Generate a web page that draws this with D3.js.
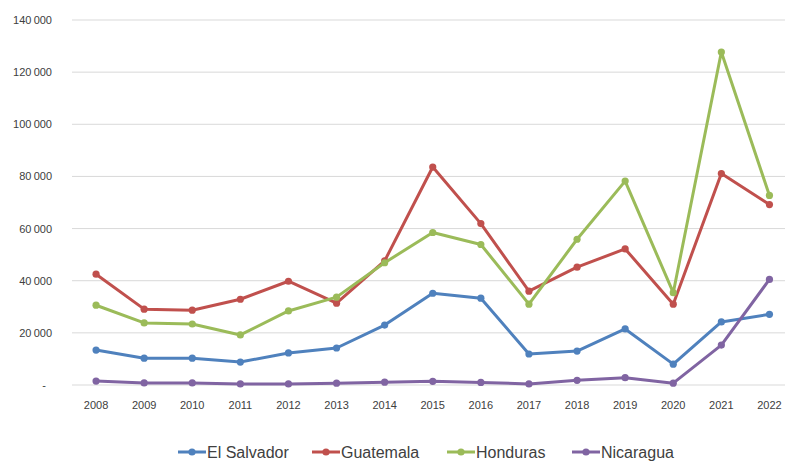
<!DOCTYPE html>
<html>
<head>
<meta charset="utf-8">
<script src="https://cdn.jsdelivr.net/npm/d3@7"></script>
<style>
  body { margin: 0; background: #fff; }
  svg text { font-family: "Liberation Sans", Arial, sans-serif; }
</style>
</head>
<body>
<svg id="chart" width="785" height="461"></svg>
<script>
  var years = ['2008', '2009', '2010', '2011', '2012', '2013', '2014', '2015',
    '2016', '2017', '2018', '2019', '2020', '2021', '2022'];
  var elSalvador = [13400, 10300, 10300, 8800, 12300, 14200, 23000, 35200,
    33300, 11900, 13000, 21500, 8000, 24200, 27100];
  var guatemala = [42500, 29100, 28700, 32900, 39800, 31400, 47600, 83600,
    61900, 36000, 45200, 52200, 31000, 81100, 69200];
  var honduras = [30600, 23800, 23400, 19200, 28400, 33700, 46900, 58500,
    53900, 31000, 55900, 78200, 35400, 127700, 72700];
  var nicaragua = [1500, 800, 800, 400, 400, 700, 1100, 1400,
    1000, 400, 1800, 2800, 700, 15300, 40500];
  var seriesNames = ['El Salvador', 'Guatemala', 'Honduras', 'Nicaragua'];
  var seriesColors = ['#4f81bd', '#c0504d', '#9bbb59', '#8064a2'];
  var yTicks = [0, 20000, 40000, 60000, 80000, 100000, 120000, 140000];

  var series = [elSalvador, guatemala, honduras, nicaragua].map(function(values, i) {
    return { name: seriesNames[i], color: seriesColors[i], values: values };
  });

  var svg = d3.select('#chart');

  var x = d3.scaleBand()
    .domain(years)
    .range([72, 72 + 15 * 48.1])
    .padding(0);
  var y = d3.scaleLinear()
    .domain([0, 140000])
    .range([385, 20]);

  var fmt = function(v) {
    if (v === 0) return '-';
    return d3.format(',')(v).replace(/,/g, '\u2009');
  };

  // grid lines
  svg.append('g')
    .selectAll('line')
    .data(yTicks.slice(1))
    .enter().append('line')
    .attr('x1', 72)
    .attr('x2', 785)
    .attr('y1', function(d) { return y(d); })
    .attr('y2', function(d) { return y(d); })
    .attr('stroke', '#d9d9d9')
    .attr('stroke-width', 1);

  // baseline
  svg.append('line')
    .attr('x1', 72)
    .attr('x2', 785)
    .attr('y1', y(0))
    .attr('y2', y(0))
    .attr('stroke', '#d9d9d9')
    .attr('stroke-width', 1.2);

  // y labels
  svg.append('g')
    .selectAll('text')
    .data(yTicks)
    .enter().append('text')
    .attr('x', function(d) { return d === 0 ? 46 : 52; })
    .attr('y', function(d) { return y(d) + 4; })
    .attr('text-anchor', 'end')
    .attr('font-size', '11px')
    .attr('fill', '#404040')
    .text(fmt);

  // x labels
  svg.append('g')
    .selectAll('text')
    .data(years)
    .enter().append('text')
    .attr('x', function(d) { return x(d) + x.bandwidth() / 2; })
    .attr('y', 409)
    .attr('text-anchor', 'middle')
    .attr('font-size', '11px')
    .attr('fill', '#404040')
    .text(function(d) { return d; });

  var line = d3.line()
    .x(function(d, i) { return x(years[i]) + x.bandwidth() / 2; })
    .y(function(d) { return y(d); });

  var groups = svg.append('g')
    .selectAll('g')
    .data(series)
    .enter().append('g');

  groups.append('path')
    .attr('d', function(d) { return line(d.values); })
    .attr('fill', 'none')
    .attr('stroke', function(d) { return d.color; })
    .attr('stroke-width', 3)
    .attr('stroke-linejoin', 'round');

  groups.each(function(s) {
    d3.select(this).selectAll('circle')
      .data(s.values)
      .enter().append('circle')
      .attr('cx', function(d, i) { return x(years[i]) + x.bandwidth() / 2; })
      .attr('cy', function(d) { return y(d); })
      .attr('r', 3.6)
      .attr('fill', s.color);
  });

  // legend
  var legendX = [178, 312, 447, 572];
  var legend = svg.append('g')
    .selectAll('g')
    .data(series)
    .enter().append('g')
    .attr('transform', function(d, i) { return 'translate(' + legendX[i] + ',452)'; });

  legend.append('line')
    .attr('x1', 0)
    .attr('x2', 28)
    .attr('stroke', function(d) { return d.color; })
    .attr('stroke-width', 3);
  legend.append('circle')
    .attr('cx', 14)
    .attr('r', 3.6)
    .attr('fill', function(d) { return d.color; });
  legend.append('text')
    .attr('x', 29)
    .attr('y', 6)
    .attr('font-size', '16px')
    .attr('fill', '#404040')
    .text(function(d) { return d.name; });
</script>
</body>
</html>
